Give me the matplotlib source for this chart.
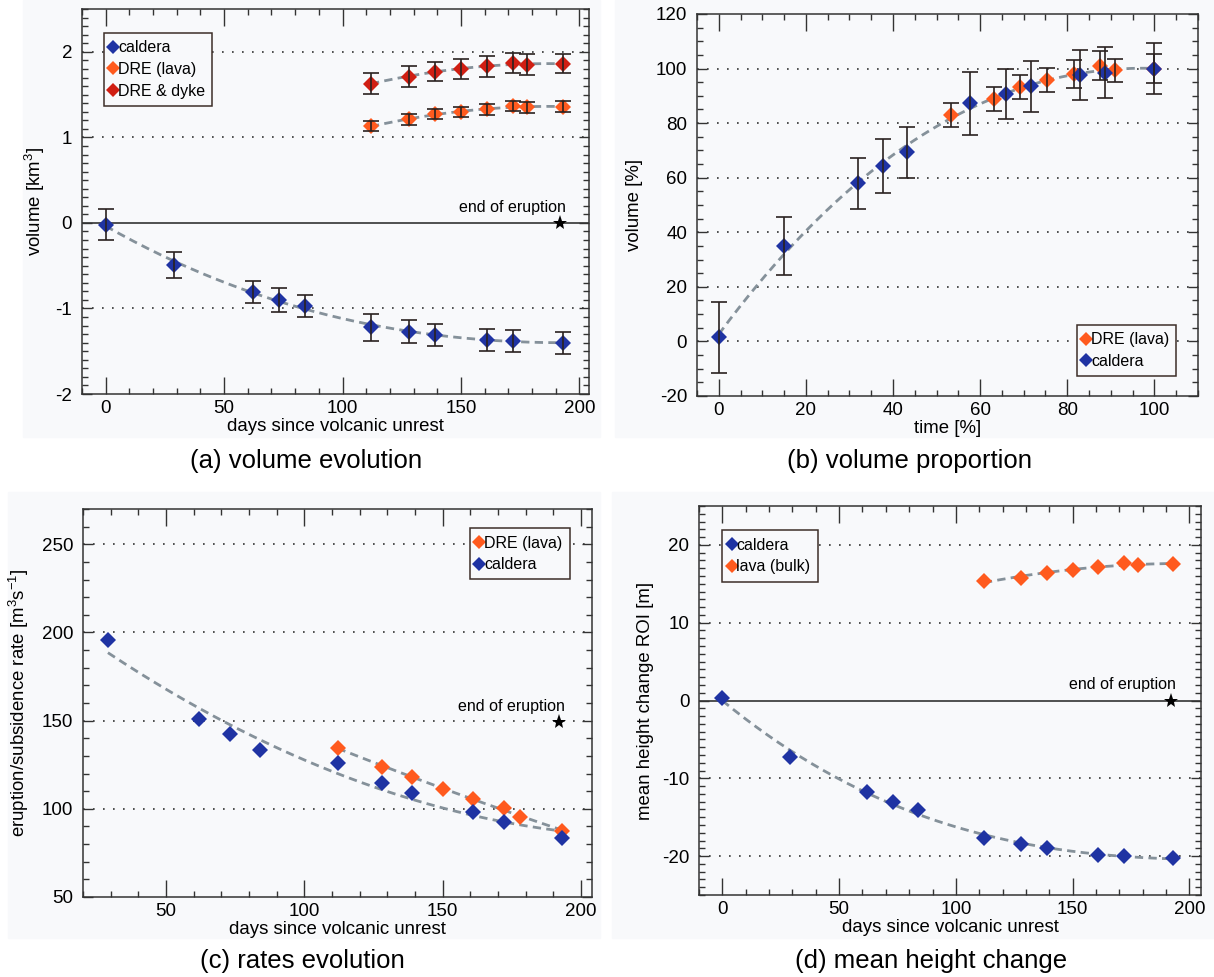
import numpy as np
import matplotlib
matplotlib.use("Agg")
from matplotlib import pyplot as plt
from matplotlib.ticker import MultipleLocator
from matplotlib.patches import Rectangle

plt.rcParams['font.family'] = ['Liberation Sans', 'DejaVu Sans']
plt.rcParams['mathtext.fontset'] = 'custom'
plt.rcParams['mathtext.rm'] = 'Liberation Sans'
plt.rcParams['mathtext.it'] = 'Liberation Sans:italic'
plt.rcParams['axes.unicode_minus'] = False

# data =======================================================================
days_cal = [0, 29, 62, 73, 84, 112, 128, 139, 161, 172, 193]
days_dre = [112, 128, 139, 150, 161, 172, 178, 193]

# (a) volumes [km3]
vol_cal = [-0.02, -0.49, -0.81, -0.90, -0.97, -1.22, -1.27, -1.31, -1.37, -1.38, -1.40]
vol_cal_err = [0.18, 0.15, 0.13, 0.14, 0.13, 0.16, 0.13, 0.13, 0.13, 0.13, 0.13]
vol_dre = [1.13, 1.21, 1.27, 1.30, 1.33, 1.37, 1.35, 1.36]
vol_dre_err = [0.06, 0.06, 0.06, 0.06, 0.065, 0.06, 0.06, 0.065]
vol_dyke = [1.63, 1.71, 1.77, 1.80, 1.83, 1.87, 1.85, 1.86]
vol_dyke_err = [0.12, 0.12, 0.115, 0.12, 0.12, 0.12, 0.12, 0.11]

# (b) volume proportion [%] vs time [%]
t_cal = [0, 15.0, 32.0, 37.7, 43.3, 57.7, 66.0, 71.6, 83.0, 88.6, 100]
p_cal = [1.5, 34.9, 57.9, 64.3, 69.3, 87.2, 90.7, 93.5, 97.6, 98.5, 100]
p_cal_err = [12.9, 10.7, 9.2, 9.9, 9.3, 11.5, 9.2, 9.3, 9.3, 9.4, 9.3]
t_dre = [53.3, 63.1, 69.2, 75.4, 81.5, 87.5, 90.9, 100]
p_dre = [83.1, 89.0, 93.3, 95.7, 97.9, 101.0, 99.4, 100]
p_dre_err = [4.4, 4.4, 4.4, 4.4, 5.1, 5.3, 4.2, 5.2]

# (c) rates [m3/s]
days_rate_cal = [29, 62, 73, 84, 112, 128, 139, 161, 172, 193]
rate_cal = [195.5, 150.8, 142.4, 133.3, 125.8, 114.6, 108.7, 98.1, 92.4, 83.3]
rate_dre = [134.7, 123.9, 118.2, 111.2, 105.3, 100.6, 95.5, 87.7]

# (d) mean height change [m]
dh_cal = [0.3, -7.2, -11.7, -13.1, -14.1, -17.7, -18.4, -18.9, -19.8, -20.0, -20.3]
dh_lava = [15.3, 15.75, 16.4, 16.8, 17.2, 17.7, 17.4, 17.5]

end_day = 192

# style ======================================================================
c_blue = '#1f33a3'
c_orange = '#ff5a1e'
c_red = '#d01e12'
c_err = '#2a2220'
c_fit = '#85919a'
c_bg = '#f8f9fb'
c_frame = '#3d2e28'

fs_tick = 13.5
fs_label = 13.4

fig = plt.figure(figsize=(12.14, 9.77), dpi=100)
fig.patch.set_facecolor('white')

# light panel backgrounds
for x0, y0, x1, y1 in [(23, 0, 600, 437), (615, 0, 1214, 437),
                       (8, 492, 600, 938), (612, 492, 1214, 938)]:
    fig.patches.append(Rectangle((x0 / 1214, 1 - y1 / 977), (x1 - x0) / 1214, (y1 - y0) / 977,
                                 transform=fig.transFigure, color=c_bg, zorder=-10))


def setup_axes(rect, xlim, ylim, xmaj, xmin, ymaj, ymin):
    ax = fig.add_axes(rect)
    ax.set_facecolor(c_bg)
    ax.set_xlim(*xlim)
    ax.set_ylim(*ylim)
    ax.xaxis.set_major_locator(MultipleLocator(xmaj))
    ax.xaxis.set_minor_locator(MultipleLocator(xmin))
    ax.yaxis.set_major_locator(MultipleLocator(ymaj))
    ax.yaxis.set_minor_locator(MultipleLocator(ymin))
    ax.tick_params(which='both', direction='in', top=True, right=True, color='#333333')
    ax.tick_params(axis='x', which='major', length=12, width=1.0, labelsize=fs_tick, pad=4)
    ax.tick_params(axis='y', which='major', length=7.5, width=1.0, labelsize=fs_tick, pad=7)
    ax.tick_params(which='minor', length=4.5, width=1.0)
    for s in ax.spines.values():
        s.set_color('#333333')
        s.set_linewidth(1.1)
    return ax


def dotted(ax, levels):
    for lv in levels:
        ax.axhline(lv, color='#333333', lw=1.2, ls=(0, (1, 5)), zorder=1)


def fit_line(ax, x, y, deg):
    x = np.asarray(x, float)
    coef = np.polyfit(x, y, deg)
    xx = np.linspace(x.min(), x.max(), 200)
    ax.plot(xx, np.polyval(coef, xx), color=c_fit, lw=2.0, dashes=(3.0, 1.9), zorder=2)


def points(ax, x, y, color, label, yerr=None):
    ax.plot(x, y, ls='none', marker='D', ms=7.8, color=color, mec=color, mew=0,
            label=label, zorder=3)
    if yerr is not None:
        ax.errorbar(x, y, yerr=yerr, fmt='none', ecolor=c_err, elinewidth=1.2,
                    capsize=5.5, capthick=1.2, zorder=4)


def end_mark(ax, y):
    ax.plot([end_day], [y], marker='*', ms=11, color='black', mew=0, zorder=5)
    ax.annotate('end of eruption', (end_day, y), xytext=(4, 6), textcoords='offset points',
                ha='right', va='bottom', fontsize=11.5)


def legend(ax, loc, anchor):
    lg = ax.legend(loc=loc, bbox_to_anchor=anchor, fontsize=11.5, frameon=True,
                   fancybox=False, framealpha=1, facecolor=c_bg, edgecolor=c_frame,
                   handlelength=0.3, handletextpad=0.15, borderpad=0.45,
                   labelspacing=0.42, borderaxespad=0, markerscale=0.85)
    lg.get_frame().set_linewidth(1.1)
    lg.set_zorder(6)
    return lg


# (a) volume evolution =======================================================
ax = setup_axes([0.0675, 0.5967, 0.4176, 0.394], (-10, 204), (-2, 2.5), 50, 10, 1, 0.1)
dotted(ax, [2, 1, -1])
ax.axhline(0, color='#333333', lw=1.2, zorder=1)
fit_line(ax, days_cal, vol_cal, 3)
fit_line(ax, days_dre, vol_dre, 2)
fit_line(ax, days_dre, vol_dyke, 2)
points(ax, days_cal, vol_cal, c_blue, 'caldera', vol_cal_err)
points(ax, days_dre, vol_dre, c_orange, 'DRE (lava)', vol_dre_err)
points(ax, days_dre, vol_dyke, c_red, 'DRE & dyke', vol_dyke_err)
end_mark(ax, 0)
legend(ax, 'upper left', (0.043, 0.938))
ax.set_xlabel('days since volcanic unrest', fontsize=fs_label, labelpad=1)
ax.set_ylabel('volume [km$^{3}$]', fontsize=fs_label, labelpad=6)

# (b) volume proportion ======================================================
ax = setup_axes([0.5741, 0.5947, 0.4127, 0.391], (-5, 110), (-20, 120), 20, 5, 20, 5)
dotted(ax, [0, 20, 40, 60, 80, 100])
fit_line(ax, t_cal + t_dre, p_cal + p_dre, 3)
points(ax, t_dre, p_dre, c_orange, 'DRE (lava)', p_dre_err)
points(ax, t_cal, p_cal, c_blue, 'caldera', p_cal_err)
legend(ax, 'lower right', (0.957, 0.052))
ax.set_xlabel('time [%]', fontsize=fs_label, labelpad=1)
ax.set_ylabel('volume [%]', fontsize=fs_label, labelpad=9)

# (c) rates evolution ========================================================
ax = setup_axes([0.0684, 0.0819, 0.4193, 0.3971], (20, 204), (50, 270), 50, 10, 50, 10)
dotted(ax, [100, 150, 200, 250])
fit_line(ax, days_rate_cal, rate_cal, 2)
fit_line(ax, days_dre, rate_dre, 2)
points(ax, days_dre, rate_dre, c_orange, 'DRE (lava)')
points(ax, days_rate_cal, rate_cal, c_blue, 'caldera')
end_mark(ax, 149)
legend(ax, 'upper right', (0.956, 0.95))
ax.set_xlabel('days since volcanic unrest', fontsize=fs_label, labelpad=1)
ax.set_ylabel('eruption/subsidence rate [m$^{3}$s$^{-1}$]', fontsize=fs_label, labelpad=8)

# (d) mean height change =====================================================
ax = setup_axes([0.5758, 0.0839, 0.4135, 0.3982], (-10, 205), (-25, 25), 50, 10, 10, 1)
dotted(ax, [20, 10, -10, -20])
ax.axhline(0, color='#333333', lw=1.2, zorder=1)
fit_line(ax, days_cal, dh_cal, 3)
fit_line(ax, days_dre, dh_lava, 2)
points(ax, days_cal, dh_cal, c_blue, 'caldera')
points(ax, days_dre, dh_lava, c_orange, 'lava (bulk)')
end_mark(ax, 0)
legend(ax, 'upper left', (0.046, 0.937))
ax.set_xlabel('days since volcanic unrest', fontsize=fs_label, labelpad=1)
ax.set_ylabel('mean height change ROI [m]', fontsize=fs_label, labelpad=6)

# captions
for x, y, txt in [(306, 461, '(a) volume evolution'), (910, 461, '(b) volume proportion'),
                  (302, 961, '(c) rates evolution'), (931, 961, '(d) mean height change')]:
    fig.text(x / 1214, 1 - y / 977, txt, ha='center', va='center', fontsize=18.5)

fig.savefig('out.png', dpi=100)
